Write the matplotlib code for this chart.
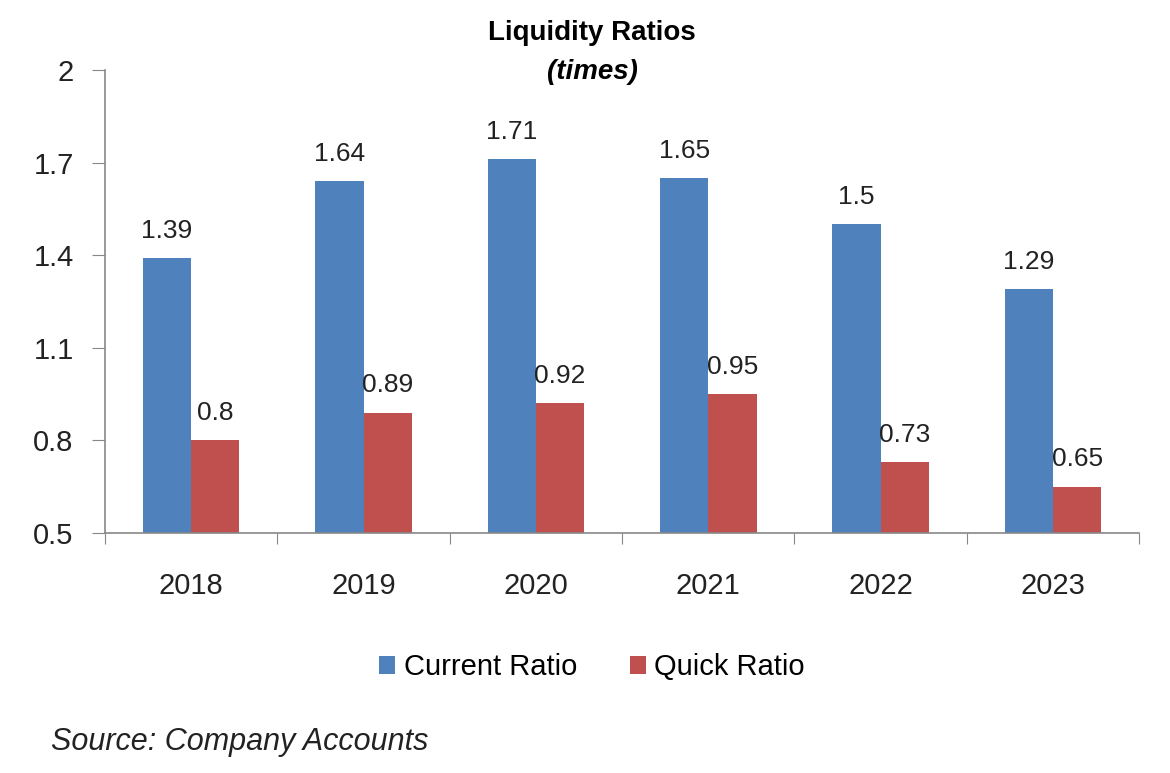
import matplotlib
matplotlib.use("Agg")
import matplotlib.pyplot as plt
import numpy as np

years = ["2018", "2019", "2020", "2021", "2022", "2023"]
current_ratio = [1.39, 1.64, 1.71, 1.65, 1.5, 1.29]
quick_ratio = [0.8, 0.89, 0.92, 0.95, 0.73, 0.65]
y_ticks = [0.5, 0.8, 1.1, 1.4, 1.7, 2.0]
y_tick_labels = ["0.5", "0.8", "1.1", "1.4", "1.7", "2"]

plt.rcParams['font.family'] = ['Liberation Sans', 'DejaVu Sans']

fig = plt.figure(figsize=(11.7, 7.73), dpi=100)
ax = fig.add_axes([0.0897, 0.3105, 0.884, 0.599])

blue = "#4F81BD"
red = "#C0504D"
x = np.arange(len(years))
w = 0.28
b1 = ax.bar(x - w/2, current_ratio, w, color=blue, label="Current Ratio", bottom=0)
b2 = ax.bar(x + w/2, quick_ratio, w, color=red, label="Quick Ratio", bottom=0)

ax.set_ylim(0.5, 2.0)
ax.set_xlim(-0.5, len(years) - 0.5)
ax.set_yticks(y_ticks)
ax.set_yticklabels(y_tick_labels, fontsize=21, color='#222222')

ax.set_xticks(np.arange(-0.5, len(years), 1.0))
ax.set_xticklabels([])
ax.set_xticks(x, minor=True)
ax.set_xticklabels(years, minor=True, fontsize=21, color='#222222')
ax.tick_params(axis='x', which='minor', length=0, pad=28)
ax.tick_params(axis='x', which='major', length=8, direction='out', color='#888888')
ax.tick_params(axis='y', length=9.5, direction='out', color='#888888', pad=13)

for s in ['top', 'right']:
    ax.spines[s].set_visible(False)
for s in ['left', 'bottom']:
    ax.spines[s].set_color('#888888')
    ax.spines[s].set_linewidth(1.2)

for xi, v in zip(x, current_ratio):
    ax.text(xi - w/2, v + 0.05, f"{v:g}", ha='center', va='bottom', fontsize=19, color='#222222')
for xi, v in zip(x, quick_ratio):
    ax.text(xi + w/2, v + 0.05, f"{v:g}", ha='center', va='bottom', fontsize=19, color='#222222')

fig.text(0.506, 0.957, "Liquidity Ratios", ha='center', va='center', fontsize=20, fontweight='bold')
fig.text(0.506, 0.907, "(times)", ha='center', va='center', fontsize=20, fontweight='bold', style='italic')

fig.legend(handles=[b1, b2], loc='center', bbox_to_anchor=(0.506, 0.137), ncol=2, frameon=False,
           fontsize=21, handlelength=0.55, handleheight=0.55, handletextpad=0.3, columnspacing=1.8)

fig.text(0.044, 0.04, "Source: Company Accounts", ha='left', va='center', fontsize=22, style='italic', color='#222222')

fig.savefig("out.png", dpi=100, facecolor='white')
